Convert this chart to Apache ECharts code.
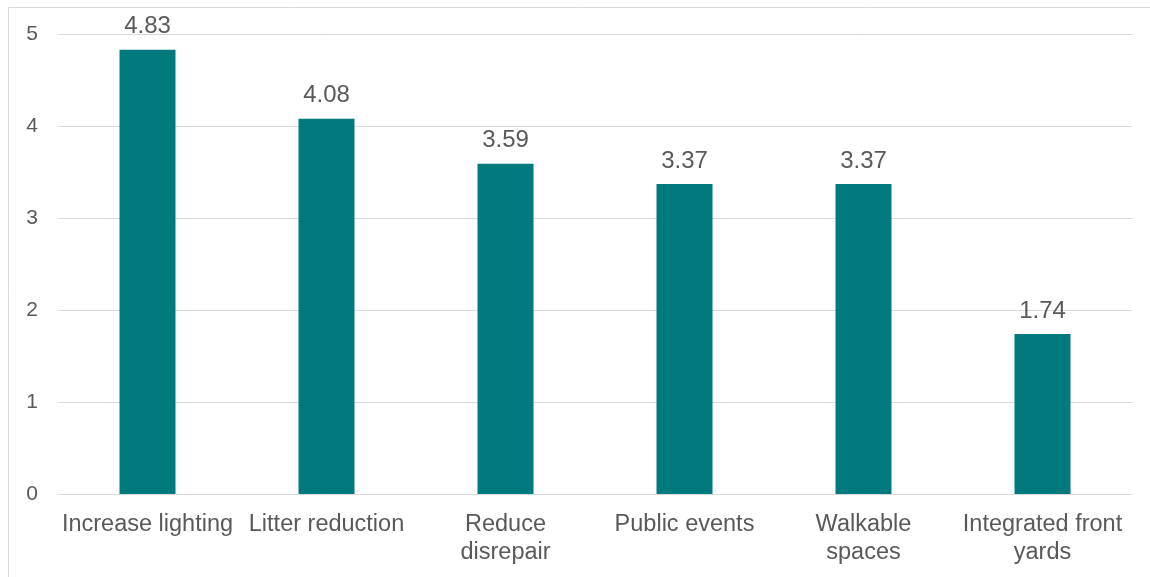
<!DOCTYPE html>
<html><head><meta charset="utf-8">
<script src="https://cdn.jsdelivr.net/npm/echarts@6/dist/echarts.min.js"></script>
<style>html,body{margin:0;padding:0;background:#fff}#c{width:1150px;height:577px}</style>
</head><body><div id="c"></div>
<script>
const categories = ['Increase lighting', 'Litter reduction', 'Reduce\ndisrepair', 'Public events', 'Walkable\nspaces', 'Integrated front\nyards'];
const values = [4.83, 4.08, 3.59, 3.37, 3.37, 1.74];
const yTicks = [0, 1, 2, 3, 4, 5];

const chart = echarts.init(document.getElementById('c'), null, {renderer: 'canvas'});
chart.setOption({
  animation: false,
  backgroundColor: '#ffffff',
  textStyle: {fontFamily: 'Liberation Sans, Arial, sans-serif'},
  graphic: [{
    type: 'rect', left: 6, top: 5, shape: {width: 1160, height: 600},
    style: {fill: 'none', stroke: '#d9d9d9', lineWidth: 1}, silent: true
  }],
  grid: {left: 58, right: 18, top: 34, bottom: 83, containLabel: false},
  xAxis: {
    type: 'category', data: categories,
    axisLine: {show: true, lineStyle: {color: '#d9d9d9', width: 1}},
    axisTick: {show: false},
    axisLabel: {color: '#595959', fontSize: 23.5, lineHeight: 28, margin: 17, interval: 0,
      fontFamily: 'Liberation Sans, Arial, sans-serif'}
  },
  yAxis: {
    type: 'value', min: yTicks[0], max: yTicks[yTicks.length - 1], interval: 1,
    axisLine: {show: false}, axisTick: {show: false},
    splitLine: {lineStyle: {color: '#d9d9d9', width: 1}},
    axisLabel: {color: '#595959', fontSize: 21, margin: 20,
      fontFamily: 'Liberation Sans, Arial, sans-serif'}
  },
  series: [{
    type: 'bar', data: values, barWidth: 56,
    itemStyle: {color: '#007A7D'},
    label: {show: true, position: 'top', distance: 11, color: '#595959', fontSize: 24,
      fontFamily: 'Liberation Sans, Arial, sans-serif', formatter: p => p.value.toFixed(2)}
  }]
});
</script></body></html>
